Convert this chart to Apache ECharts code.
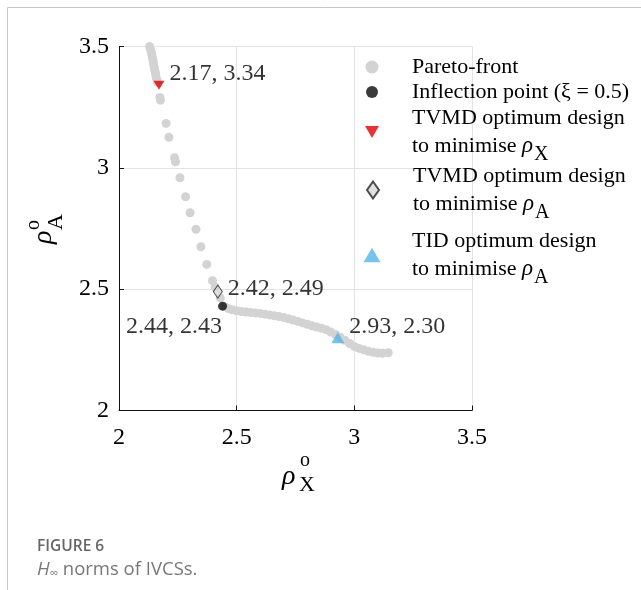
<!DOCTYPE html>
<html>
<head>
<meta charset="utf-8">
<script src="https://cdn.jsdelivr.net/npm/echarts@6/dist/echarts.min.js"></script>
<style>
html,body{margin:0;padding:0;background:#fff;}
#chart{width:641px;height:590px;}
</style>
</head>
<body>
<div id="chart"></div>
<script>
// ---- data ----
const xTicks = [2, 2.5, 3, 3.5];
const yTicks = [2, 2.5, 3, 3.5];
const paretoX = [2.130,2.133,2.137,2.140,2.142,2.145,2.147,2.150,2.152,2.155,2.157,2.160,2.163,
  2.174,2.176,2.200,2.212,2.236,2.240,2.259,2.283,2.302,2.327,2.348,2.373,2.397,2.408,2.430,
  2.450,2.465,2.480,2.500,2.520,2.540,2.560,2.580,2.600,2.620,2.640,2.660,2.680,2.700,2.720,
  2.740,2.760,2.780,2.800,2.820,2.840,2.860,2.880,2.900,2.920,2.940,2.960,2.980,3.000,3.020,
  3.040,3.060,3.080,3.100,3.120,3.144];
const paretoY = [3.500,3.490,3.478,3.465,3.452,3.440,3.428,3.415,3.402,3.390,3.377,3.365,3.352,
  3.290,3.279,3.183,3.126,3.042,3.025,2.959,2.881,2.815,2.747,2.675,2.602,2.535,2.509,2.464,
  2.428,2.420,2.415,2.411,2.408,2.406,2.404,2.402,2.400,2.397,2.394,2.390,2.387,2.383,2.378,
  2.373,2.367,2.361,2.355,2.349,2.344,2.339,2.333,2.323,2.313,2.302,2.289,2.276,2.264,2.256,
  2.250,2.244,2.240,2.237,2.236,2.238];
const inflection = [2.44, 2.43];
const tvmdX = [2.17, 3.34];
const tvmdA = [2.42, 2.49];
const tidA = [2.93, 2.30];
const seriesNames = ['Pareto-front', 'Inflection point (ξ = 0.5)', 'TVMD optimum design X', 'TVMD optimum design A', 'TID optimum design A'];
const legendTexts = [
  'Pareto-front',
  'Inflection point (ξ = 0.5)',
  'TVMD optimum design\nto minimise {r|ρ}{s|X}',
  'TVMD optimum design\nto minimise {r|ρ}{s|A}',
  'TID optimum design\nto minimise {r|ρ}{s|A}'
];

const SERIF = "'Liberation Serif', 'Times New Roman', serif";
const downTri = 'path://M0,0 L20,0 L10,17 Z';
const upTri = 'path://M10,0 L20,17 L0,17 Z';

const chart = echarts.init(document.getElementById('chart'));
const labelFmt = p => p.value[0].toFixed(2) + ', ' + p.value[1].toFixed(2);
const lblStyle = {show: true, formatter: labelFmt, fontFamily: SERIF, fontSize: 24, color: '#000'};

function mkLegend(i, top, w, h) {
  const left = 372 - w / 2;
  return {
    data: [seriesNames[i]], left: left, top: top, orient: 'vertical', padding: 0,
    itemWidth: w, itemHeight: h,
    formatter: () => legendTexts[i],
    textStyle: {
      fontFamily: SERIF, fontSize: 22, color: '#000', lineHeight: 28,
      padding: [0, 0, 0, 412 - (left + w + 5)],
      rich: {
        r: {fontFamily: SERIF, fontStyle: 'italic', fontSize: 23, color: '#000', lineHeight: 28},
        s: {fontFamily: SERIF, fontSize: 20, color: '#000', lineHeight: 28, padding: [9, 0, -9, 1]}
      }
    }
  };
}

const option = {
  animation: false,
  backgroundColor: '#fff',
  grid: {left: 119, right: 169, top: 46.5, bottom: 179.5},
  xAxis: {
    type: 'value', min: 2, max: 3.5, interval: 0.5,
    axisLine: {lineStyle: {color: '#111', width: 1}},
    axisTick: {inside: true, length: 5, lineStyle: {color: '#111'}},
    axisLabel: {fontFamily: SERIF, fontSize: 24, color: '#000', margin: 15,
      formatter: v => xTicks.indexOf(v) >= 0 ? String(v) : ''},
    splitLine: {show: true, lineStyle: {color: '#e3e3e3', width: 1}}
  },
  yAxis: {
    type: 'value', min: 2, max: 3.5, interval: 0.5,
    axisLine: {show: true, lineStyle: {color: '#111', width: 1}},
    axisTick: {show: true, inside: true, length: 5, lineStyle: {color: '#111'}},
    axisLabel: {fontFamily: SERIF, fontSize: 24, color: '#000', margin: 10,
      formatter: v => yTicks.indexOf(v) >= 0 ? String(v) : ''},
    splitLine: {show: true, lineStyle: {color: '#e3e3e3', width: 1}}
  },
  legend: [
    mkLegend(0, 53, 13, 13),
    mkLegend(1, 78, 12, 12),
    mkLegend(2, 104, 14, 12),
    mkLegend(3, 162, 12, 17),
    mkLegend(4, 227, 17, 15)
  ],
  series: [
    {name: seriesNames[0], type: 'scatter', symbol: 'circle', symbolSize: 9,
      itemStyle: {color: '#d3d3d3', opacity: 1},
      data: paretoX.map((x, i) => [x, paretoY[i]]), z: 2},
    {name: seriesNames[1], type: 'scatter', symbol: 'circle', symbolSize: 9,
      itemStyle: {color: '#0a0a0a'},
      label: Object.assign({}, lblStyle, {position: 'left', offset: [9, 21]}),
      data: [inflection], z: 3},
    {name: seriesNames[2], type: 'scatter', symbol: downTri, symbolSize: [11, 9],
      itemStyle: {color: '#e00000'},
      label: Object.assign({}, lblStyle, {position: 'right', offset: [0, -12]}),
      data: [tvmdX], z: 3},
    {name: seriesNames[3], type: 'scatter', symbol: 'diamond', symbolSize: [9, 13],
      itemStyle: {color: '#d8d8d8', borderColor: '#222', borderWidth: 1},
      label: Object.assign({}, lblStyle, {position: 'right', offset: [0, -3]}),
      data: [tvmdA], z: 3},
    {name: seriesNames[4], type: 'scatter', symbol: upTri, symbolSize: [13, 11],
      itemStyle: {color: '#56b4e9'},
      label: Object.assign({}, lblStyle, {position: 'right', offset: [0, -11]}),
      data: [tidA], z: 3}
  ],
  graphic: [
    {type: 'line', shape: {x1: 7.5, y1: 7.5, x2: 641, y2: 7.5}, style: {stroke: '#c8c8c8', lineWidth: 1}},
    {type: 'line', shape: {x1: 7.5, y1: 7.5, x2: 7.5, y2: 590}, style: {stroke: '#c8c8c8', lineWidth: 1}},
    // x axis name
    {type: 'text', left: 282, top: 463, style: {text: 'ρ', font: "italic 28px 'Liberation Serif'", fill: '#000'}},
    {type: 'text', left: 300, top: 451, style: {text: 'o', font: "20px 'Liberation Serif'", fill: '#000'}},
    {type: 'text', left: 299, top: 474, style: {text: 'X', font: "22px 'Liberation Serif'", fill: '#000'}},
    // y axis name (rotated)
    {type: 'group', x: 48, y: 226, rotation: Math.PI / 2, children: [
      {type: 'text', x: -18, y: -18, style: {text: 'ρ', font: "italic 28px 'Liberation Serif'", fill: '#000'}},
      {type: 'text', x: -4, y: -24, style: {text: 'o', font: "20px 'Liberation Serif'", fill: '#000'}},
      {type: 'text', x: -4, y: -3, style: {text: 'A', font: "22px 'Liberation Serif'", fill: '#000'}}
    ]},
    // caption
    {type: 'text', left: 37, top: 539, style: {text: 'FIGURE 6', font: "600 15.5px 'Open Sans'", fill: '#666'}},
    {type: 'text', left: 37, top: 560, style: {
      text: '{h|H}{i|∞}{t| norms of IVCSs.}',
      rich: {
        h: {font: "italic 18.5px 'Open Sans'", fill: '#777'},
        i: {font: "12px 'Open Sans'", fill: '#777', padding: [8, 0, 0, 0]},
        t: {font: "18.5px 'Open Sans'", fill: '#777'}
      }
    }}
  ]
};
chart.setOption(option);
</script>
</body>
</html>
